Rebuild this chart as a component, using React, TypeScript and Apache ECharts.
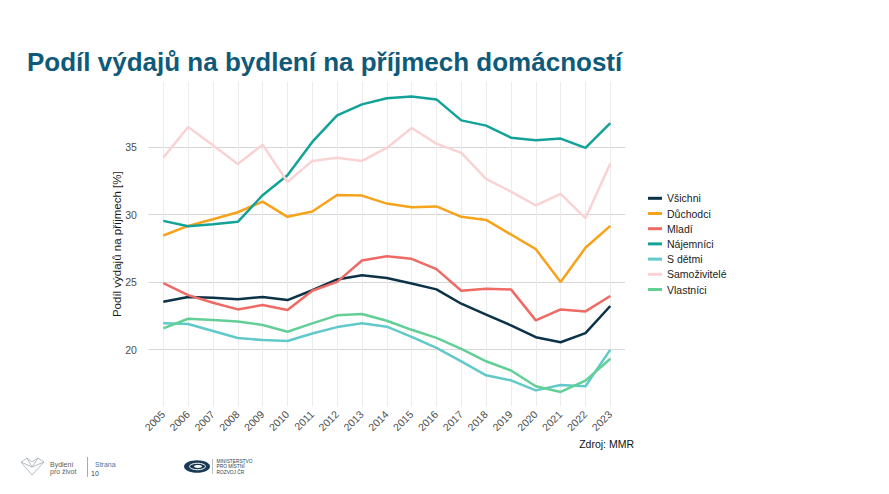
import React, { useEffect, useRef } from "react";
import * as echarts from "echarts";

const years = [2005,2006,2007,2008,2009,2010,2011,2012,2013,2014,2015,2016,2017,2018,2019,2020,2021,2022,2023];
const vsichni = [23.55,23.9,23.84,23.74,23.9,23.67,24.4,25.2,25.5,25.3,24.9,24.46,23.4,22.6,21.8,20.92,20.55,21.22,23.23];
const duchodci = [28.45,29.16,29.65,30.17,30.96,29.83,30.22,31.45,31.4,30.81,30.54,30.6,29.83,29.6,28.52,27.44,25.0,27.54,29.16];
const mladi = [24.93,24.04,23.47,22.98,23.3,22.93,24.36,25.02,26.6,26.92,26.72,25.96,24.36,24.5,24.46,22.17,22.98,22.83,23.97];
const najemnici = [29.53,29.14,29.29,29.46,31.43,32.9,35.37,37.34,38.15,38.6,38.74,38.52,36.97,36.58,35.69,35.49,35.62,34.93,36.77];
const sDetmi = [21.95,21.9,21.38,20.86,20.71,20.64,21.2,21.67,21.95,21.7,20.95,20.14,19.14,18.1,17.73,16.99,17.39,17.29,20.0];
const samozivitele = [34.21,36.48,35.12,33.74,35.17,32.41,33.97,34.21,33.97,34.93,36.4,35.25,34.56,32.64,31.7,30.67,31.53,29.73,33.77];
const vlastnici = [21.58,22.29,22.19,22.09,21.82,21.33,21.95,22.54,22.64,22.14,21.47,20.87,20.06,19.14,18.46,17.29,16.87,17.71,19.33];
const yTicks = [20, 25, 30, 35];

const seriesDefs = [
  { name: "Všichni", data: vsichni, color: "#0b3247" },
  { name: "Důchodci", data: duchodci, color: "#f7a21b" },
  { name: "Mladí", data: mladi, color: "#ef6a64" },
  { name: "Nájemníci", data: najemnici, color: "#12a297" },
  { name: "S dětmi", data: sDetmi, color: "#62c9ca" },
  { name: "Samoživitelé", data: samozivitele, color: "#f9d3d4" },
  { name: "Vlastníci", data: vlastnici, color: "#62cf97" },
];

const FONT = "'Liberation Sans', Arial, sans-serif";

export default function App() {
  const ref = useRef<HTMLDivElement>(null);
  useEffect(() => {
    if (!ref.current) return;
    const chart = echarts.init(ref.current, null, { renderer: "svg" });
    const option: any = {
      animation: false,
      backgroundColor: "#ffffff",
      textStyle: { fontFamily: FONT },
      grid: { left: 148.4, right: 263.8, top: 81.7, bottom: 87.3, containLabel: false },
      legend: {
        orient: "vertical",
        left: 648,
        top: 192.3,
        icon: "rect",
        itemWidth: 14,
        itemHeight: 3,
        itemGap: 3.2,
        padding: 0,
        textStyle: { fontSize: 10.5, lineHeight: 12, color: "#1a1a1a", fontFamily: FONT },
        data: seriesDefs.map((s) => s.name),
      },
      xAxis: {
        type: "value",
        min: 2004.4,
        max: 2023.6,
        axisLine: { show: false },
        axisTick: { show: false, customValues: years },
        axisLabel: {
          customValues: years,
          rotate: 45,
          fontSize: 10.5,
          color: "#4d4d4d",
          margin: 6,
          fontFamily: FONT,
          formatter: (v: number) => String(v),
        },
        splitLine: { show: true, lineStyle: { color: "#ececec", width: 1 } },
      },
      yAxis: {
        type: "value",
        min: 15.78,
        max: 39.83,
        axisLine: { show: false },
        axisTick: { show: false, customValues: yTicks },
        axisLabel: { customValues: yTicks, fontSize: 10.5, color: "#4d4d4d", margin: 11.5, fontFamily: FONT },
        splitLine: { show: true, lineStyle: { color: "#d6d6d6", width: 1.2 } },
        name: "Podíl výdajů na příjmech [%]",
        nameLocation: "middle",
        nameGap: 25,
        nameMoveOverlap: false,
        nameTextStyle: { fontSize: 11.5, color: "#1a1a1a", fontFamily: FONT },
      },
      series: seriesDefs.map((s) => ({
        name: s.name,
        type: "line",
        data: s.data.map((v, i) => [years[i], v]),
        symbol: "none",
        smooth: false,
        color: s.color,
        lineStyle: { color: s.color, width: 2.5 },
      })),
      graphic: [
        {
          type: "text",
          left: 27,
          top: 49,
          style: { text: "Podíl výdajů na bydlení na příjmech domácností", fontSize: 26, fontWeight: "bold", fill: "#0f5a78", fontFamily: FONT },
        },
        {
          type: "text",
          x: 634,
          y: 443.5,
          style: { text: "Zdroj: MMR", fontSize: 10.5, fill: "#111111", align: "right", verticalAlign: "middle", fontFamily: FONT },
        },
        {
          type: "polyline",
          shape: { points: [[21, 462], [27, 458], [32, 462], [38, 458], [44, 462], [32, 475], [21, 462]] },
          style: { stroke: "#a3adb4", lineWidth: 0.8, fill: "none" },
        },
        {
          type: "polyline",
          shape: { points: [[21, 462], [32, 467], [44, 462]] },
          style: { stroke: "#a3adb4", lineWidth: 0.8, fill: "none" },
        },
        {
          type: "polyline",
          shape: { points: [[27, 458], [32, 467], [38, 458]] },
          style: { stroke: "#a3adb4", lineWidth: 0.8, fill: "none" },
        },
        { type: "text", x: 50, y: 464, style: { text: "Bydlení", fontSize: 7, fill: "#555f66", verticalAlign: "middle", fontFamily: FONT } },
        { type: "text", x: 50, y: 471.5, style: { text: "pro život", fontSize: 7, fill: "#555f66", verticalAlign: "middle", fontFamily: FONT } },
        { type: "line", shape: { x1: 87.5, y1: 457, x2: 87.5, y2: 477 }, style: { stroke: "#8a96a0", lineWidth: 0.8 } },
        { type: "text", x: 95, y: 464, style: { text: "Strana", fontSize: 7, fill: "#3b79ab", verticalAlign: "middle", fontFamily: FONT } },
        { type: "text", x: 91, y: 473, style: { text: "10", fontSize: 7, fill: "#2a3f55", verticalAlign: "middle", fontFamily: FONT } },
        { type: "ellipse", shape: { cx: 197, cy: 466.5, rx: 13, ry: 6.3 }, style: { fill: "#1b3a56" } },
        { type: "ellipse", shape: { cx: 197.5, cy: 466.5, rx: 8, ry: 3.2 }, style: { fill: "none", stroke: "#ffffff", lineWidth: 1 } },
        { type: "ellipse", shape: { cx: 198, cy: 466.5, rx: 4, ry: 1.4 }, style: { fill: "#ffffff" } },
        { type: "line", shape: { x1: 212.5, y1: 459, x2: 212.5, y2: 474 }, style: { stroke: "#8a96a0", lineWidth: 0.6 } },
        { type: "text", x: 216.5, y: 461.5, style: { text: "MINISTERSTVO", fontSize: 4.8, fill: "#2a3f55", verticalAlign: "middle", fontFamily: FONT } },
        { type: "text", x: 216.5, y: 466.8, style: { text: "PRO MÍSTNÍ", fontSize: 4.8, fill: "#2a3f55", verticalAlign: "middle", fontFamily: FONT } },
        { type: "text", x: 216.5, y: 472, style: { text: "ROZVOJ ČR", fontSize: 4.8, fill: "#2a3f55", verticalAlign: "middle", fontFamily: FONT } },
      ],
    };
    chart.setOption(option);
    return () => chart.dispose();
  }, []);
  return (
    <div
      ref={ref}
      style={{ position: "fixed", left: 0, top: 0, width: 889, height: 494, background: "#fff" }}
    />
  );
}
